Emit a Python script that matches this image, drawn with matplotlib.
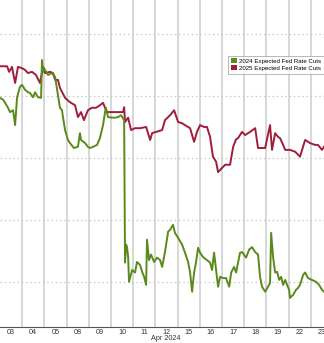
import matplotlib
matplotlib.use("Agg")
import matplotlib.pyplot as plt
from matplotlib.patches import Patch

# x = trading-day position (0 = start of Apr 03), y = expected cuts (bp)
day_labels = ['03', '04', '05', '08', '09', '10', '11', '12', '15', '16', '17', '18', '19', '22', '23']

t_2025 = [0, 0.32, 0.41, 0.54, 0.68, 0.81, 0.99, 1.13, 1.26, 1.44, 1.62, 1.80, 1.94, 2.03, 2.25,
          2.39, 2.48, 2.61, 2.70, 2.93, 3.15, 3.38, 3.51, 3.65, 3.78, 3.96, 4.14, 4.32, 4.50, 4.64,
          4.73, 4.82, 5.18, 5.54, 5.59, 5.63, 5.77, 5.90, 6.08, 6.31, 6.58, 6.76, 6.85, 7.03, 7.21,
          7.30, 7.43, 7.66, 7.84, 8.02, 8.20, 8.33, 8.56, 8.74, 8.87, 9.01, 9.19, 9.32, 9.46, 9.59,
          9.73, 9.82, 10.0, 10.14, 10.36, 10.50, 10.63, 10.72, 10.90, 11.04, 11.26, 11.49, 11.62, 11.80,
          11.94, 12.16, 12.25, 12.39, 12.52, 12.61, 12.75, 12.84, 13.06, 13.29, 13.51, 13.74, 13.96,
          14.19, 14.32, 14.50, 14.59]
v_2025 = [74.8, 74.8, 73.9, 74.7, 72.1, 74.7, 74.5, 74.2, 73.7, 73.9, 73.4, 72.1, 74.7, 73.7, 73.9,
          73.7, 72.6, 72.6, 71.3, 69.7, 69.0, 68.5, 66.6, 67.4, 66.1, 67.7, 68.1, 68.1, 68.5, 68.9,
          68.1, 67.4, 67.4, 67.4, 68.2, 65.8, 66.5, 64.5, 64.8, 64.8, 65.0, 62.9, 64.0, 64.2, 64.4,
          64.5, 66.1, 66.9, 67.7, 65.8, 65.6, 65.3, 64.8, 62.6, 64.2, 65.3, 65.0, 65.0, 63.4, 60.2,
          59.4, 57.7, 58.4, 58.9, 58.9, 61.8, 63.0, 63.2, 64.2, 63.7, 64.2, 64.8, 61.6, 61.6,
          61.6, 65.3, 61.3, 64.0, 63.4, 63.2, 62.1, 61.3, 61.3, 61.0, 60.2, 62.9, 62.4,
          62.1, 62.1, 61.3, 61.8]

t_2024 = [0, 0.14, 0.23, 0.36, 0.45, 0.59, 0.68, 0.77, 0.90, 0.99, 1.13, 1.26, 1.35, 1.49, 1.58,
          1.71, 1.85, 1.89, 1.94, 1.98, 2.16, 2.34, 2.48, 2.61, 2.70, 2.79, 2.84, 2.93, 3.06, 3.15,
          3.33, 3.51, 3.60, 3.65, 3.83, 3.96, 4.05, 4.19, 4.37, 4.50, 4.64, 4.73, 4.77, 4.86, 5.05,
          5.18, 5.32, 5.45, 5.59, 5.61, 5.63, 5.68, 5.72, 5.77, 5.81, 5.95, 6.08, 6.17, 6.31, 6.40,
          6.49, 6.58, 6.62, 6.71, 6.80, 6.94, 7.07, 7.21, 7.30, 7.43, 7.57, 7.66, 7.79, 7.88, 8.02,
          8.20, 8.33, 8.47, 8.56, 8.65, 8.74, 8.83, 8.92, 9.01, 9.14, 9.32, 9.46, 9.55, 9.64, 9.73,
          9.82, 9.91, 10.05, 10.18, 10.32, 10.41, 10.54, 10.63, 10.72, 10.81, 10.90, 11.08, 11.22,
          11.35, 11.49, 11.62, 11.71, 11.80, 11.94, 12.07, 12.16, 12.21, 12.30, 12.39, 12.48, 12.57,
          12.66, 12.75, 12.84, 12.93, 13.02, 13.06, 13.20, 13.33, 13.42, 13.51, 13.65, 13.74, 13.87,
          14.05, 14.23, 14.37, 14.50, 14.59]
v_2024 = [69.7, 69.4, 68.9, 68.1, 67.4, 67.7, 65.3, 69.8, 71.5, 71.8, 71.0, 70.6, 70.5, 69.8, 70.6,
          69.8, 69.7, 75.8, 73.9, 74.5, 73.4, 73.7, 73.1, 70.2, 68.1, 67.7, 66.5, 64.5, 62.9, 62.4,
          61.6, 61.8, 64.0, 62.9, 62.4, 61.8, 61.6, 61.8, 62.1, 63.2, 65.3, 67.4, 68.1, 66.6, 66.5,
          66.5, 66.6, 66.9, 66.1, 53.2, 43.1, 46.0, 45.6, 44.0, 40.0, 41.9, 41.5, 43.2, 42.7, 41.6,
          40.8, 39.5, 46.8, 43.5, 44.4, 43.2, 43.9, 43.5, 42.4, 44.8, 48.1, 48.4, 49.2, 47.9, 47.1,
          46.0, 44.7, 43.2, 41.5, 38.4, 41.5, 43.2, 45.5, 44.7, 44.0, 43.5, 43.1, 41.9, 44.7, 41.9,
          39.2, 40.8, 40.6, 40.6, 39.2, 41.5, 42.4, 41.5, 43.1, 44.7, 44.8, 43.9, 45.2,
          45.6, 44.8, 44.4, 40.8, 39.2, 38.4, 39.2, 39.8, 47.9, 43.9, 41.5, 41.6, 40.3,
          40.8, 39.5, 40.3, 39.5, 38.7, 37.4, 37.9, 38.7, 39.0, 39.5, 41.1, 41.5, 40.6,
          40.3, 40.0, 39.5, 38.7, 38.4]

labels = ['2024 Expected Fed Rate Cuts', '2025 Expected Fed Rate Cuts']
c24 = '#5b8a1c'
c25 = '#a21c3c'

plt.rcParams['font.family'] = ['Liberation Sans', 'DejaVu Sans']

fig = plt.figure(figsize=(3.24, 3.43), dpi=100)
ax = fig.add_axes([0, 16 / 343, 1, 327 / 343])

n_days = len(day_labels)
for d in range(1, n_days):
    ax.axvline(d, color='#d4d4d4', lw=1.3, zorder=0)
for g in [40, 50, 60, 70, 80]:
    ax.axhline(g, color='#c8c8c8', lw=0.9, ls=(0, (1.2, 2.2)), zorder=0)

ax.plot(t_2025, v_2025, color=c25, lw=1.4, zorder=3)
ax.plot(t_2024, v_2024, color=c24, lw=1.4, zorder=4)

ax.set_xlim(0, 14.59)
ax.set_ylim(32.7, 85.5)
ax.set_yticks([])
ax.set_xticks([i + 0.5 for i in range(n_days)])
ax.set_xticklabels(day_labels, fontsize=5.2, color='#333333')
ax.tick_params(axis='x', length=0, pad=1.5)
for s in ['top', 'right', 'left']:
    ax.spines[s].set_visible(False)
ax.spines['bottom'].set_color('#555555')
ax.spines['bottom'].set_linewidth(0.8)
fig.text(166 / 324, 0.5 / 343, 'Apr 2024', ha='center', va='bottom', fontsize=5.2, color='#333333')

handles = [Patch(facecolor=c24, edgecolor='none'), Patch(facecolor=c25, edgecolor='none')]
leg = ax.legend(handles, labels, loc='upper left', bbox_to_anchor=(0.705, 0.83), fontsize=4.4,
                frameon=True, fancybox=False, edgecolor='#999999', handlelength=0.9,
                handleheight=0.9, handletextpad=0.4, borderpad=0.45, labelspacing=0.2,
                borderaxespad=0)
leg.get_frame().set_linewidth(0.6)

fig.savefig('out.png', dpi=100)
